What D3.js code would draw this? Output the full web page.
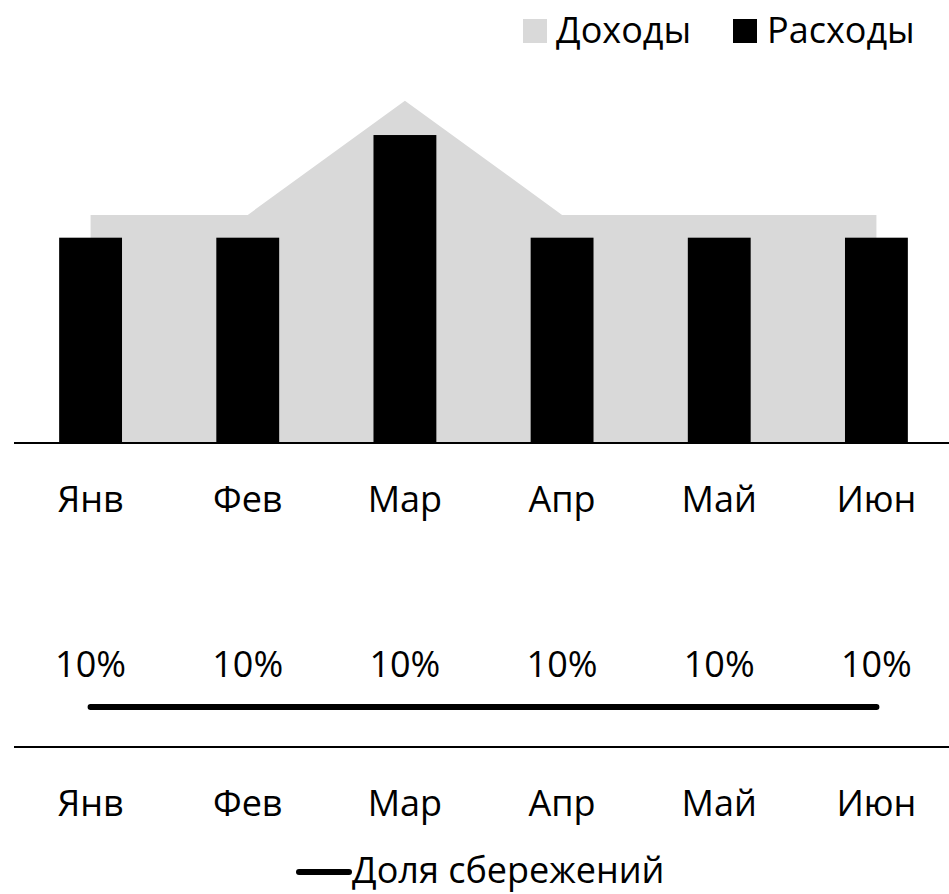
<!DOCTYPE html>
<html>
<head>
<meta charset="utf-8">
<script src="https://cdn.jsdelivr.net/npm/d3@7"></script>
<style>
  body { margin: 0; background: #fff; }
  text { font-family: "Open Sans", sans-serif; fill: #000; }
</style>
</head>
<body>
<div id="chart"></div>
<script>
// chart data
var months = ["Янв", "Фев", "Мар", "Апр", "Май", "Июн"];
var income = [100, 100, 150, 100, 100, 100];
var expenses = [90, 90, 135, 90, 90, 90];
var savings = [10, 10, 10, 10, 10, 10];

var width = 949;
var height = 894;
var fontSize = 36;

var svg = d3.select("#chart")
  .append("svg")
  .attr("width", width)
  .attr("height", height);

// shared x scale for both panels
var xScale = d3.scaleBand()
  .domain(months)
  .range([12, 955])
  .paddingInner(0.6)
  .paddingOuter(0.3);

var xCenter = d => xScale(d) + xScale.bandwidth() / 2;

// top panel: income area + expense bars
var yTop = d3.scaleLinear()
  .domain([0, 160])
  .range([443, 78]);

var area = d3.area()
  .x((d, i) => xCenter(months[i]))
  .y0(yTop(0))
  .y1(d => yTop(d));

svg.append("path")
  .datum(income)
  .attr("d", area)
  .attr("fill", "#d9d9d9");

svg.selectAll(".bar")
  .data(expenses)
  .enter()
  .append("rect")
  .attr("class", "bar")
  .attr("x", (d, i) => xScale(months[i]))
  .attr("y", d => yTop(d))
  .attr("width", xScale.bandwidth())
  .attr("height", d => yTop(0) - yTop(d))
  .attr("fill", "#000");

svg.append("line")
  .attr("x1", 14).attr("x2", width)
  .attr("y1", yTop(0)).attr("y2", yTop(0))
  .attr("stroke", "#000")
  .attr("stroke-width", 2);

svg.selectAll(".mtop")
  .data(months)
  .enter()
  .append("text")
  .attr("x", d => xCenter(d))
  .attr("y", 512)
  .attr("text-anchor", "middle")
  .style("font-size", fontSize + "px")
  .text(d => d);

// bottom panel: savings share line
var yBottom = d3.scaleLinear()
  .domain([0, 25])
  .range([747, 647]);

var line = d3.line()
  .x((d, i) => xCenter(months[i]))
  .y(d => yBottom(d));

svg.append("path")
  .datum(savings)
  .attr("d", line)
  .attr("fill", "none")
  .attr("stroke", "#000")
  .attr("stroke-width", 6)
  .attr("stroke-linecap", "round");

svg.selectAll(".pct")
  .data(savings)
  .enter()
  .append("text")
  .attr("x", (d, i) => xCenter(months[i]))
  .attr("y", d => yBottom(d) - 30)
  .attr("text-anchor", "middle")
  .style("font-size", fontSize + "px")
  .text(d => d + "%");

svg.append("line")
  .attr("x1", 14).attr("x2", width)
  .attr("y1", yBottom(0)).attr("y2", yBottom(0))
  .attr("stroke", "#000")
  .attr("stroke-width", 2);

svg.selectAll(".mbot")
  .data(months)
  .enter()
  .append("text")
  .attr("x", d => xCenter(d))
  .attr("y", 816)
  .attr("text-anchor", "middle")
  .style("font-size", fontSize + "px")
  .text(d => d);

// legends
var legendTop = svg.append("g");
legendTop.append("rect").attr("x", 523).attr("y", 19).attr("width", 24).attr("height", 24).attr("fill", "#d9d9d9");
legendTop.append("text").attr("x", 556).attr("y", 43).style("font-size", fontSize + "px").text("Доходы");
legendTop.append("rect").attr("x", 733).attr("y", 19).attr("width", 24).attr("height", 24).attr("fill", "#000");
legendTop.append("text").attr("x", 767).attr("y", 43).style("font-size", fontSize + "px").text("Расходы");

var legendBottom = svg.append("g");
legendBottom.append("line")
  .attr("x1", 299).attr("x2", 349)
  .attr("y1", 872).attr("y2", 872)
  .attr("stroke", "#000")
  .attr("stroke-width", 6)
  .attr("stroke-linecap", "round");
legendBottom.append("text").attr("x", 352).attr("y", 883).style("font-size", fontSize + "px").text("Доля сбережений");
</script>
</body>
</html>
